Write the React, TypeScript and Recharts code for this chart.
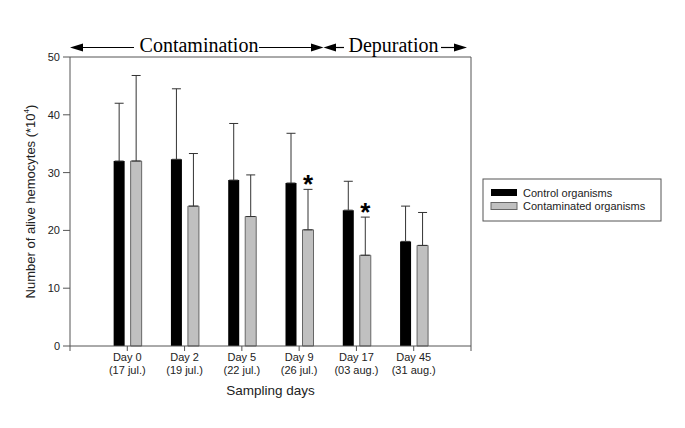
import React from 'react';
import { BarChart, Bar, XAxis, YAxis, ErrorBar, LabelList, ReferenceLine } from 'recharts';

const dayLabels = ['Day 0', 'Day 2', 'Day 5', 'Day 9', 'Day 17', 'Day 45'];
const dateLabels = ['(17 jul.)', '(19 jul.)', '(22 jul.)', '(26 jul.)', '(03 aug.)', '(31 aug.)'];
const controlMean = [32.0, 32.3, 28.7, 28.2, 23.5, 18.1];
const controlSd = [10.0, 12.2, 9.8, 8.6, 5.0, 6.1];
const contamMean = [32.0, 24.2, 22.4, 20.1, 15.7, 17.4];
const contamSd = [14.8, 9.1, 7.2, 7.0, 6.6, 5.7];
const significant = [false, false, false, true, true, false];
const yTicks = [0, 10, 20, 30, 40, 50];
const xTicks = [0, 1, 2, 3, 4, 5, 6, 7];

const data = dayLabels.map((d, i) => ({
  x: i + 1,
  control: controlMean[i],
  controlErr: [0, controlSd[i]],
  contam: contamMean[i],
  contamErr: [0, contamSd[i]],
  star: significant[i] ? '*' : '',
}));

const sans = 'Liberation Sans, Arial, Helvetica, sans-serif';
const serif = 'Liberation Serif, Times New Roman, serif';

function DayTick(props: any) {
  const { x, y, payload } = props;
  const i = payload.value - 1;
  if (i < 0 || i >= dayLabels.length) return null;
  return (
    <text x={x} y={y} textAnchor="middle" fontSize={11} fontFamily={sans} fill="#222">
      <tspan x={x} dy="0.71em">{dayLabels[i]}</tspan>
      <tspan x={x} dy={13}>{dateLabels[i]}</tspan>
    </text>
  );
}

function Star(props: any) {
  const { x, y, width, height, index } = props;
  if (!significant[index]) return null;
  // top of the whisker, through the bar's own pixel scale
  const top = y - (contamSd[index] * height) / contamMean[index];
  return (
    <text x={x + width / 2} y={top + 4} textAnchor="middle" fontSize={26} fontWeight="bold" fontFamily={sans} fill="#000">
      *
    </text>
  );
}

export default function App() {
  return (
    <div style={{ position: 'absolute', left: 0, top: 0, width: 685, height: 428, background: '#fff' }}>
      <BarChart
        width={685}
        height={428}
        data={data}
        margin={{ top: 57, right: 214, bottom: 22, left: 30 }}
        barGap={6}
      >
        <XAxis
          dataKey="x"
          type="number"
          domain={[0, 7]}
          ticks={xTicks}
          interval={0}
          height={60}
          tickSize={5}
          tick={<DayTick />}
          axisLine={{ stroke: '#555' }}
          tickLine={{ stroke: '#555' }}
          label={(p: any) => (
            <text x={p.viewBox.x + p.viewBox.width / 2} y={p.viewBox.y + 49} textAnchor="middle" fontSize={13.5} fontFamily={sans} fill="#222">
              Sampling days
            </text>
          )}
        />
        <YAxis
          type="number"
          domain={[0, 50]}
          ticks={yTicks}
          width={40}
          tickSize={7}
          tickMargin={3}
          tick={{ fontSize: 11, fontFamily: sans, fill: '#222' }}
          axisLine={{ stroke: '#555' }}
          tickLine={{ stroke: '#555' }}
          label={(p: any) => {
            const cx = p.viewBox.x + 5;
            const cy = p.viewBox.y + p.viewBox.height / 2;
            return (
              <text x={cx} y={cy} transform={`rotate(-90 ${cx} ${cy})`} textAnchor="middle" fontSize={13} fontFamily={sans} fill="#222">
                Number of alive hemocytes (*10
                <tspan fontSize={8} dy={-6}>4</tspan>
                <tspan dy={6}>)</tspan>
              </text>
            );
          }}
        />
        <ReferenceLine y={50} stroke="#555" />
        <ReferenceLine x={7} stroke="#555" />
        <Bar dataKey="control" fill="#000" barSize={11} isAnimationActive={false}>
          <ErrorBar dataKey="controlErr" width={4.5} stroke="#333" strokeWidth={1} isAnimationActive={false} />
        </Bar>
        <Bar dataKey="contam" fill="#c0c0c0" stroke="#666" strokeWidth={1} barSize={11} isAnimationActive={false}>
          <ErrorBar dataKey="contamErr" width={4.5} stroke="#333" strokeWidth={1} isAnimationActive={false} />
          <LabelList dataKey="star" content={<Star />} />
        </Bar>
      </BarChart>
      <svg width={685} height={428} style={{ position: 'absolute', left: 0, top: 0, pointerEvents: 'none' }}>
        <g stroke="#000" strokeWidth={1.2}>
          <line x1={80} y1={47.5} x2={134} y2={47.5} />
          <line x1={259} y1={47.5} x2={313} y2={47.5} />
          <line x1={334} y1={47.5} x2={344} y2={47.5} />
          <line x1={441} y1={47.5} x2={457} y2={47.5} />
        </g>
        <g fill="#000">
          <polygon points="70,47.5 83,43.5 83,51.5" />
          <polygon points="323.5,47.5 311,43.5 311,51.5" />
          <polygon points="323.5,47.5 336,43.5 336,51.5" />
          <polygon points="467,47.5 454,43.5 454,51.5" />
        </g>
        <text x={199} y={52} textAnchor="middle" fontSize={20} fontFamily={serif} fill="#000">Contamination</text>
        <text x={393.5} y={52} textAnchor="middle" fontSize={20} fontFamily={serif} fill="#000">Depuration</text>
        <rect x={483} y={179} width={178} height={42} fill="#fff" stroke="#555" strokeWidth={1} />
        <rect x={491} y={189} width={26} height={7} fill="#000" />
        <rect x={491} y={202.5} width={26} height={7} fill="#c0c0c0" stroke="#666" strokeWidth={1} />
        <text x={523} y={196.5} fontSize={11} fontFamily={sans} fill="#222">Control organisms</text>
        <text x={523} y={210} fontSize={11} fontFamily={sans} fill="#222">Contaminated organisms</text>
      </svg>
    </div>
  );
}
